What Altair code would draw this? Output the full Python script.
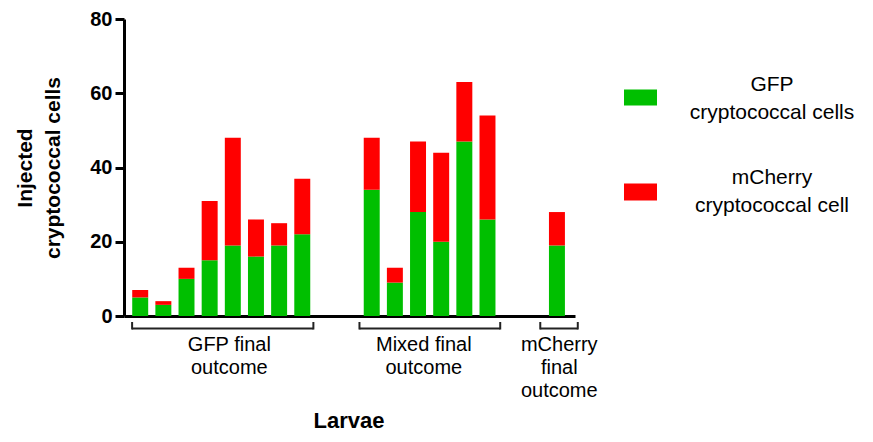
import altair as alt
import pandas as pd

# ---- data ----
slots = [0, 1, 2, 3, 4, 5, 6, 7, 10, 11, 12, 13, 14, 15, 18]
gfp = [5, 3, 10, 15, 19, 16, 19, 22, 34, 9, 28, 20, 47, 26, 19]
total = [7, 4, 13, 31, 48, 26, 25, 37, 48, 13, 47, 44, 63, 54, 28]
mcherry = [t - g for t, g in zip(total, gfp)]

series_names = ["GFP cryptococcal cells", "mCherry cryptococcal cell"]
series_colors = ["#00bf00", "#ff0000"]

group_labels = ["GFP final\noutcome", "Mixed final\noutcome", "mCherry\nfinal\noutcome"]
group_label_pos = [3.85, 12.25, 18.1]
bracket_start = [-0.35, 9.47, 17.28]
bracket_end = [7.48, 15.55, 18.9]

y_ticks = [0, 20, 40, 60, 80]

FONT = "Liberation Sans"

rows = []
for s, g, m in zip(slots, gfp, mcherry):
    rows.append({"slot": s, "series": series_names[0], "value": g, "order": 0})
    rows.append({"slot": s, "series": series_names[1], "value": m, "order": 1})
bars_df = pd.DataFrame(rows)

groups_df = pd.DataFrame({
    "label": group_labels,
    "lx": group_label_pos,
    "bs": bracket_start,
    "be": bracket_end,
})

xscale = alt.Scale(domain=[-0.7, 18.78], nice=False, zero=False, padding=0)
yscale = alt.Scale(domain=[0, 80], nice=False, padding=0)

bars = alt.Chart(bars_df).transform_stack(
    stack="value", groupby=["slot"], as_=["lo", "hi"],
    sort=[alt.SortField("order", order="ascending")]
).transform_calculate(
    x0="datum.slot - 0.345", x1="datum.slot + 0.345"
).mark_bar().encode(
    x=alt.X("x0:Q", scale=xscale,
            axis=alt.Axis(labels=False, ticks=False, title=None, grid=False,
                          domainWidth=3, domainColor="black")),
    x2="x1:Q",
    y=alt.Y("lo:Q", scale=yscale,
            axis=alt.Axis(values=y_ticks, grid=False,
                          title=["Injected", "cryptococcal cells"],
                          titleFont=FONT, titleFontSize=21, titleFontWeight="bold",
                          titleColor="black", titleLineHeight=28, titlePadding=26,
                          labelFont=FONT, labelFontSize=20, labelFontWeight="bold",
                          labelColor="black", labelPadding=3,
                          tickSize=9, tickWidth=3, tickColor="black",
                          domainWidth=3, domainColor="black")),
    y2="hi:Q",
    color=alt.Color("series:N", scale=alt.Scale(domain=series_names, range=series_colors), legend=None),
)

bracket_h = alt.Chart(groups_df).mark_rule(color="#222", strokeWidth=2).encode(
    x=alt.X("bs:Q", scale=xscale), x2="be:Q", y=alt.value(309.5)
)
bracket_l = alt.Chart(groups_df).mark_rule(color="#222", strokeWidth=2).encode(
    x=alt.X("bs:Q", scale=xscale), y=alt.value(303), y2=alt.value(310.5)
)
bracket_r = alt.Chart(groups_df).mark_rule(color="#222", strokeWidth=2).encode(
    x=alt.X("be:Q", scale=xscale), y=alt.value(303), y2=alt.value(310.5)
)
group_text = alt.Chart(groups_df).mark_text(
    align="center", baseline="alphabetic", lineBreak="\n", lineHeight=23,
    fontSize=20, font=FONT, color="black"
).encode(x=alt.X("lx:Q", scale=xscale), y=alt.value(331.5), text="label:N")

title_df = pd.DataFrame({"t": ["Larvae"]})
x_title = alt.Chart(title_df).mark_text(
    align="center", baseline="alphabetic", fontSize=22, fontWeight="bold", font=FONT, color="black"
).encode(x=alt.value(225), y=alt.value(409), text="t:N")

legend_layers = []
legend_y = [(70.5, 86.5, 71.5), (164.5, 181.5, 164.5)]
legend_texts = ["GFP\ncryptococcal cells", "mCherry\ncryptococcal cell"]
for (y0, y1, ty), col, txt in zip(legend_y, series_colors, legend_texts):
    d = pd.DataFrame({"t": [txt]})
    legend_layers.append(
        alt.Chart(d).mark_rect(color=col).encode(
            x=alt.value(500), x2=alt.value(533), y=alt.value(y0), y2=alt.value(y1))
    )
    legend_layers.append(
        alt.Chart(d).mark_text(align="center", baseline="alphabetic", lineBreak="\n",
                               lineHeight=28, fontSize=21, font=FONT, color="black").encode(
            x=alt.value(648), y=alt.value(ty), text="t:N")
    )

chart = alt.layer(
    bars, bracket_h, bracket_l, bracket_r, group_text, x_title, *legend_layers
).properties(
    width=451, height=297,
    padding={"left": 116, "top": 11, "right": 288, "bottom": 118},
    autosize=alt.AutoSizeParams(type="none"),
).configure_view(stroke=None)

chart.save("out.html", embed_options={"renderer": "svg", "actions": False})
